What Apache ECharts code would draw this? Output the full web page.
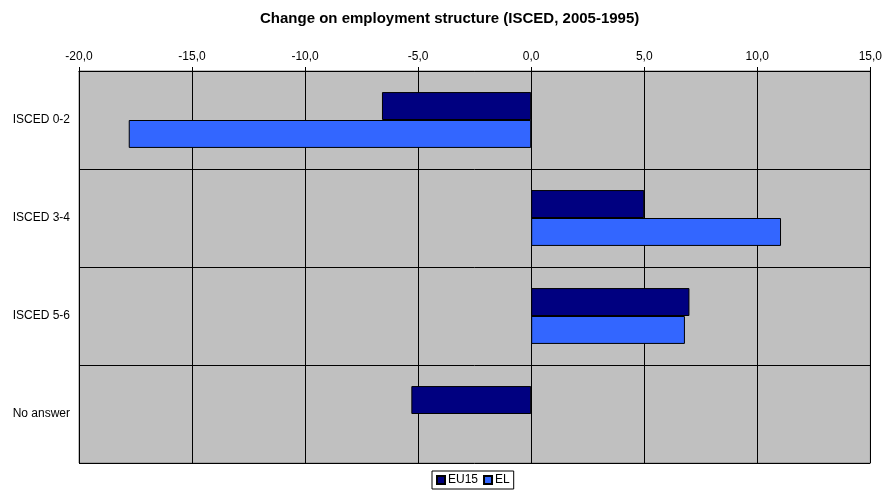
<!DOCTYPE html>
<html>
<head>
<meta charset="utf-8" />
<title>Change on employment structure</title>
<script src="https://cdn.jsdelivr.net/npm/echarts@6/dist/echarts.min.js"></script>
<style>
html, body { margin: 0; padding: 0; background: #fff; }
#chart { width: 885px; height: 490px; }
</style>
</head>
<body>
<div id="chart"></div>
<script type="text/javascript">
// data
var categories = ['ISCED 0-2', 'ISCED 3-4', 'ISCED 5-6', 'No answer'];
var eu15 = [-6.6, 5.0, 7.0, -5.3];
var el = [-17.8, 11.05, 6.8, null];
var seriesNames = ['EU15', 'EL'];
var seriesColors = ['#000080', '#3366FF'];

var myChart = echarts.init(document.getElementById('chart'));

myChart.setOption({
	animation: false,
	backgroundColor: '#ffffff',
	textStyle: { fontFamily: 'Liberation Sans, Arial, sans-serif' },
	title: {
		text: 'Change on employment structure (ISCED, 2005-1995)',
		left: 255,
		top: 6,
		textStyle: { fontSize: 15, fontWeight: 'bold', color: '#000' }
	},
	legend: {
		data: seriesNames,
		bottom: 1,
		left: 432,
		itemWidth: 8,
		itemHeight: 8,
		itemGap: 5,
		padding: [3, 4],
		borderColor: '#000',
		borderWidth: 1,
		textStyle: { fontSize: 12, color: '#000', padding: [0, 0, 0, -2] },
		icon: 'rect'
	},
	grid: {
		left: 79,
		right: 14,
		top: 71,
		bottom: 27,
		show: true,
		backgroundColor: '#C0C0C0',
		borderColor: '#808080',
		borderWidth: 1
	},
	xAxis: {
		type: 'value',
		position: 'top',
		min: -20,
		max: 15,
		interval: 5,
		axisLine: { show: true, lineStyle: { color: '#000', width: 1 } },
		axisTick: { show: true, length: 4, lineStyle: { color: '#000' } },
		axisLabel: {
			fontSize: 12,
			color: '#000',
			margin: 8,
			formatter: function (v) { return v.toFixed(1).replace('.', ','); }
		},
		splitLine: { show: true, lineStyle: { color: '#000', width: 1 } }
	},
	yAxis: {
		type: 'category',
		inverse: true,
		data: categories,
		axisLine: { show: true, lineStyle: { color: '#000' } },
		axisTick: { show: false },
		axisLabel: { fontSize: 12, color: '#000', margin: 9 },
		splitLine: { show: true, lineStyle: { color: '#000', width: 1 } }
	},
	series: [{
		name: seriesNames[0],
		type: 'bar',
		data: eu15,
		barGap: '0%',
		barCategoryGap: '43%',
		itemStyle: { color: seriesColors[0], borderColor: '#000', borderWidth: 1 }
	}, {
		name: seriesNames[1],
		type: 'bar',
		data: el,
		barGap: '0%',
		barCategoryGap: '43%',
		itemStyle: { color: seriesColors[1], borderColor: '#000', borderWidth: 1 }
	}]
});
</script>
</body>
</html>
